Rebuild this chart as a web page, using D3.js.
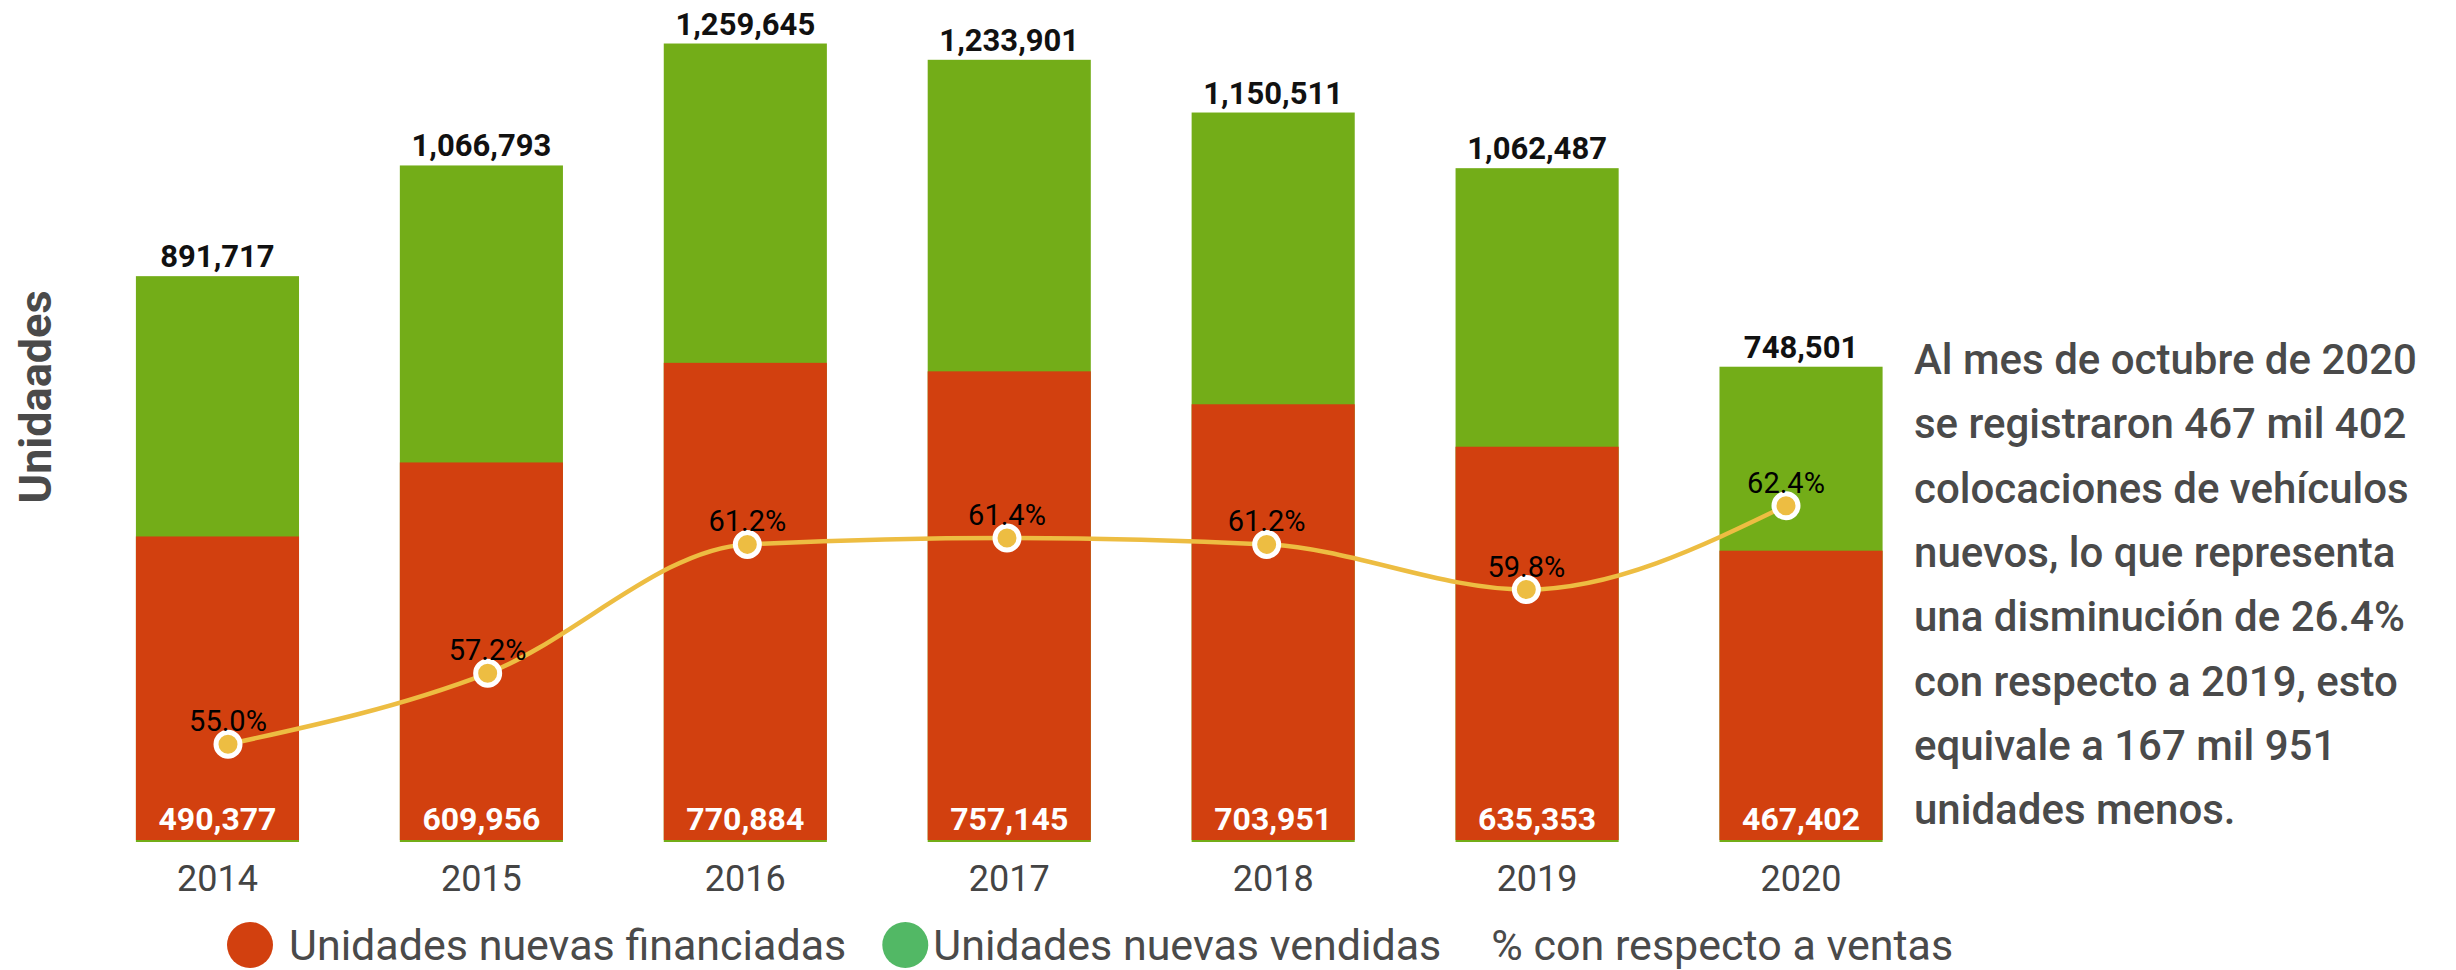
<!DOCTYPE html>
<html>
<head>
<meta charset="utf-8">
<script src="https://cdn.jsdelivr.net/npm/d3@7"></script>
<style>
  body { margin: 0; background: #fff; }
  svg { display: block; font-family: Roboto, "Noto Sans", sans-serif; }
</style>
</head>
<body>
<div id="chart"></div>
<script>
// datos
var years = ["2014", "2015", "2016", "2017", "2018", "2019", "2020"];
var financiadas = [490377, 609956, 770884, 757145, 703951, 635353, 467402];
var vendidas = [891717, 1066793, 1259645, 1233901, 1150511, 1062487, 748501];
var porcentaje = [55.0, 57.2, 61.2, 61.4, 61.2, 59.8, 62.4];
var legendLabels = ["Unidades nuevas financiadas", "Unidades nuevas vendidas", "% con respecto a ventas"];
var noteLines = [
  "Al mes de octubre de 2020",
  "se registraron 467 mil 402",
  "colocaciones de vehículos",
  "nuevos, lo que representa",
  "una disminución de 26.4%",
  "con respecto a 2019, esto",
  "equivale a 167 mil 951",
  "unidades menos."
];

var W = 2456, H = 970;
var RED = "#d2400f", GREEN = "#73ad18", LEG_GREEN = "#52b865", YELLOW = "#edbd42", GREY = "#4a4a4a";
var plotBottom = 840, plotTop = 18;

var svg = d3.select("#chart").append("svg")
  .attr("width", W)
  .attr("height", H);

var x = d3.scaleBand()
  .domain(years)
  .range([85.5, 1933])
  .paddingInner(0.382)
  .paddingOuter(0.191);

// la linea usa su propia escala de puntos
var xLine = d3.scalePoint()
  .domain(years)
  .range([228, 1786]);

// cada serie tiene su propio eje (ocultos)
var yTot = d3.scaleLinear()
  .domain([0, 1300000])
  .range([plotBottom, plotTop]);

var yFin = d3.scaleLinear()
  .domain([0, 1328000])
  .range([plotBottom, plotTop]);

var yPct = d3.scaleLinear()
  .domain([51.75, 77.53])
  .range([849, plotTop]);

var fmt = d3.format(",");

var rows = years.map(function(d, i) {
  return {year: d, fin: financiadas[i], tot: vendidas[i], pct: porcentaje[i]};
});

// barras verdes (total vendidas)
svg.append("g").selectAll("rect").data(rows)
  .enter().append("rect")
  .attr("x", function(d) { return x(d.year); })
  .attr("y", function(d) { return yTot(d.tot); })
  .attr("width", x.bandwidth())
  .attr("height", function(d) { return plotBottom + 2 - yTot(d.tot); })
  .style("fill", GREEN);

// barras rojas (financiadas)
svg.append("g").selectAll("rect").data(rows)
  .enter().append("rect")
  .attr("x", function(d) { return x(d.year); })
  .attr("y", function(d) { return yFin(d.fin); })
  .attr("width", x.bandwidth())
  .attr("height", function(d) { return plotBottom - yFin(d.fin); })
  .style("fill", RED);

// etiquetas de total
svg.append("g").selectAll("text").data(rows)
  .enter().append("text")
  .attr("x", function(d) { return x(d.year) + x.bandwidth() / 2; })
  .attr("y", function(d) { return yTot(d.tot) - 9; })
  .attr("text-anchor", "middle")
  .style("font-size", "31px")
  .style("font-weight", "bold")
  .style("fill", "#111")
  .text(function(d) { return fmt(d.tot); });

// etiquetas de financiadas
svg.append("g").selectAll("text").data(rows)
  .enter().append("text")
  .attr("x", function(d) { return x(d.year) + x.bandwidth() / 2; })
  .attr("y", 830)
  .attr("text-anchor", "middle")
  .style("font-size", "32px")
  .style("font-weight", "bold")
  .style("fill", "#fff")
  .text(function(d) { return fmt(d.fin); });

// eje x
var xAxis = svg.append("g")
  .attr("transform", "translate(0," + (plotBottom + 2) + ")")
  .call(d3.axisBottom(x).tickSize(0).tickPadding(23));
xAxis.select(".domain").remove();
xAxis.selectAll("text")
  .style("font-family", "Roboto, sans-serif")
  .style("font-size", "36px")
  .style("fill", "#444");

// linea de porcentaje
var line = d3.line()
  .x(function(d) { return xLine(d.year); })
  .y(function(d) { return yPct(d.pct); })
  .curve(d3.curveMonotoneX);

svg.append("path")
  .datum(rows)
  .attr("d", line)
  .style("fill", "none")
  .style("stroke", YELLOW)
  .style("stroke-width", 4.5);

svg.append("g").selectAll("circle").data(rows)
  .enter().append("circle")
  .attr("cx", function(d) { return xLine(d.year); })
  .attr("cy", function(d) { return yPct(d.pct); })
  .attr("r", 12)
  .style("fill", YELLOW)
  .style("stroke", "#fff")
  .style("stroke-width", 5);

svg.append("g").selectAll("text").data(rows)
  .enter().append("text")
  .attr("x", function(d) { return xLine(d.year); })
  .attr("y", function(d) { return yPct(d.pct) - 13; })
  .attr("text-anchor", "middle")
  .style("font-size", "29px")
  .style("fill", "#000")
  .text(function(d) { return d.pct.toFixed(1) + "%"; });

// titulo eje y
svg.append("text")
  .attr("transform", "translate(51,397) rotate(-90)")
  .attr("text-anchor", "middle")
  .style("font-size", "45px")
  .style("font-weight", "bold")
  .style("fill", GREY)
  .text("Unidaades");

// nota lateral
svg.append("g").selectAll("text").data(noteLines)
  .enter().append("text")
  .attr("x", 1914)
  .attr("y", function(d, i) { return 374 + i * 64.3; })
  .style("font-size", "42px")
  .style("font-weight", 500)
  .style("fill", GREY)
  .text(function(d) { return d; });

// leyenda
var legend = svg.append("g");
var lx = 250;
var textGap = [39, 28, 0];
var itemGap = [59, 50, 0];
legendLabels.forEach(function(label, i) {
  if (i < 2) {
    legend.append("circle")
      .attr("cx", lx)
      .attr("cy", 945)
      .attr("r", 23)
      .style("fill", i == 0 ? RED : LEG_GREEN);
  }
  lx += textGap[i];
  var t = legend.append("text")
    .attr("x", lx)
    .attr("y", 960)
    .style("font-size", "43px")
    .style("fill", GREY)
    .text(label);
  lx += t.node().getComputedTextLength() + itemGap[i];
});
</script>
</body>
</html>
